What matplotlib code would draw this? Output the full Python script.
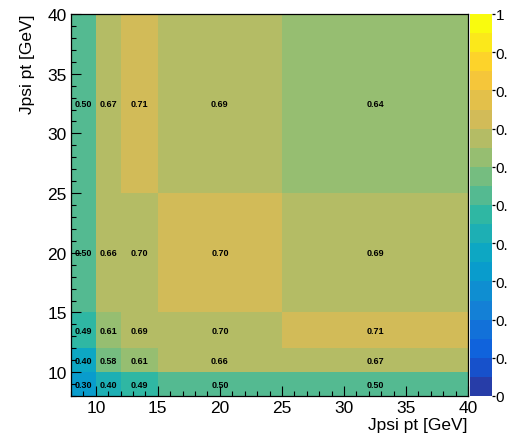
import numpy as np
import matplotlib
matplotlib.use('Agg')
import matplotlib.pyplot as plt
from matplotlib.colors import ListedColormap, BoundaryNorm, LinearSegmentedColormap
from matplotlib.ticker import MultipleLocator

plt.rcParams['font.family'] = ['Liberation Sans', 'DejaVu Sans']

# bin edges (Jpsi pt, GeV)
x_edges = [8, 10, 12, 15, 25, 40]
y_edges = [8, 10, 12, 15, 25, 40]

# efficiency per bin, rows = y bins (bottom to top), columns = x bins
eff = np.array([
    [0.301, 0.402, 0.49, 0.50, 0.50],
    [0.398, 0.58, 0.61, 0.66, 0.67],
    [0.49, 0.61, 0.69, 0.698, 0.71],
    [0.50, 0.66, 0.698, 0.701, 0.69],
    [0.50, 0.67, 0.71, 0.69, 0.64],
])

cbar_ticks = [0.0, 0.1, 0.2, 0.3, 0.4, 0.5, 0.6, 0.7, 0.8, 0.9, 1.0]
cbar_labels = ['0', '0.', '0.', '0.', '0.', '0.', '0.', '0.', '0.', '0.', '1']

# ROOT kBird palette, 20 contours
stops = [0.0, 0.125, 0.25, 0.375, 0.5, 0.625, 0.75, 0.875, 1.0]
red = [0.2082, 0.0592, 0.0780, 0.0232, 0.1802, 0.5301, 0.8186, 0.9956, 0.9764]
green = [0.1664, 0.3599, 0.5041, 0.6419, 0.7178, 0.7492, 0.7328, 0.7862, 0.9832]
blue = [0.5293, 0.8684, 0.8385, 0.7914, 0.6425, 0.4662, 0.3499, 0.1968, 0.0539]
bird = LinearSegmentedColormap.from_list('bird', list(zip(stops, zip(red, green, blue))))
ncont = 20
cols = [bird(int((i + 0.99) * 255 / ncont) / 254.0) for i in range(ncont)]
cmap = ListedColormap(cols)
norm = BoundaryNorm(np.linspace(0, 1, ncont + 1), ncont)

fig = plt.figure(figsize=(5.08, 4.39), dpi=100)
W, H = 508.0, 439.0
ax = fig.add_axes([71 / W, 1 - 397 / H, 397 / W, 382 / H])
cax = fig.add_axes([470 / W, 1 - 397 / H, 22 / W, 382 / H])

mesh = ax.pcolormesh(x_edges, y_edges, eff, cmap=cmap, norm=norm)
ax.set_xlim(8, 40)
ax.set_ylim(8, 40)

xc = [(x_edges[i] + x_edges[i + 1]) / 2 for i in range(len(x_edges) - 1)]
yc = [(y_edges[j] + y_edges[j + 1]) / 2 for j in range(len(y_edges) - 1)]
for j, y in enumerate(yc):
    for i, x in enumerate(xc):
        ax.text(x, y, '%.2f' % eff[j, i], ha='center', va='center',
                fontsize=6.5, fontweight='bold', color='black')

ax.xaxis.set_major_locator(MultipleLocator(5))
ax.xaxis.set_minor_locator(MultipleLocator(1))
ax.yaxis.set_major_locator(MultipleLocator(5))
ax.yaxis.set_minor_locator(MultipleLocator(1))
ax.tick_params(which='both', direction='in', labelsize=12.5, pad=3,
               top=False, right=False)
ax.tick_params(which='major', length=7.5, width=0.8)
ax.tick_params(which='minor', length=3.8, width=0.8)
for s in ax.spines.values():
    s.set_linewidth(0.9)

ax.set_xlabel('Jpsi pt [GeV]', fontsize=12.5, loc='right')
ax.xaxis.set_label_coords(1.0, -0.055)
ax.set_ylabel('Jpsi pt [GeV]', fontsize=12.5, loc='top')
ax.yaxis.set_label_coords(-0.09, 1.0)

cb = fig.colorbar(mesh, cax=cax, ticks=cbar_ticks)
cb.outline.set_visible(False)
cb.ax.set_yticklabels(cbar_labels)
cb.ax.tick_params(direction='out', length=2.5, width=0.9, labelsize=11, pad=0)
cb.ax.minorticks_off()

fig.savefig('out.png', dpi=100)
